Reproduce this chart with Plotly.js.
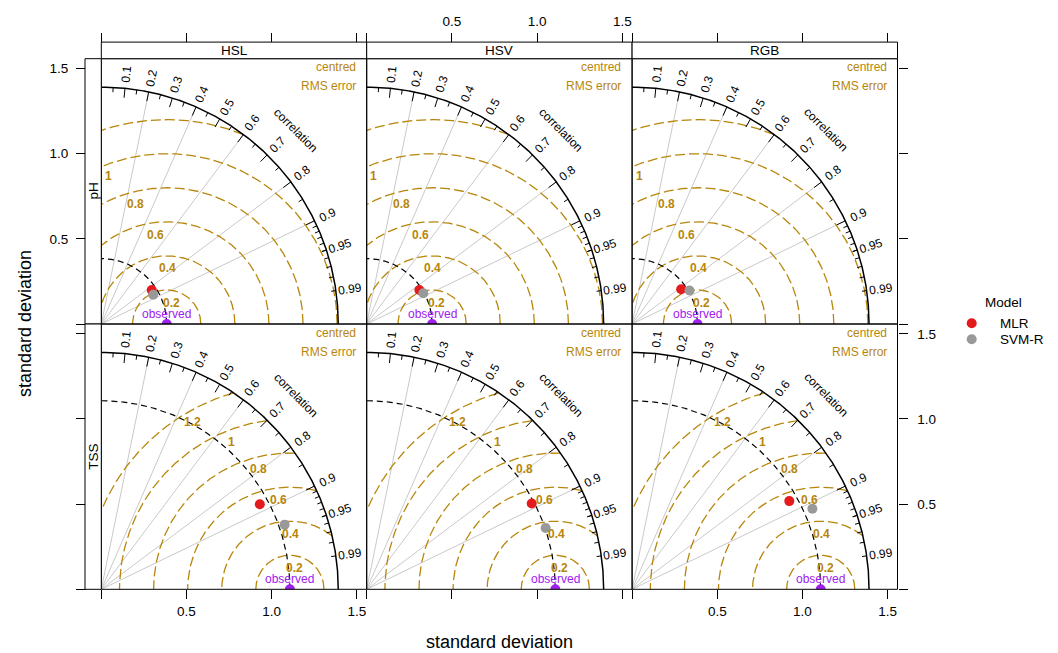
<!DOCTYPE html>
<html><head><meta charset="utf-8">
<script src="https://cdn.plot.ly/plotly-3.0.1.min.js"></script>
<style>html,body{margin:0;padding:0;background:#fff}#chart{width:1058px;height:653px}</style>
</head><body><div id="chart"></div>
<script>
// ---------------- data ----------------
const panelCols = ["HSL", "HSV", "RGB"];
const panelRows = ["pH", "TSS"];
const models = ["MLR", "SVM-R"];
const modelColors = ["#E41A1C", "#999999"];
const legendTitle = "Model";
const obsSD = [0.384, 1.107];               // observed sd: pH, TSS
// standard deviation and correlation per panel, order HSL, HSV, RGB
const MLR_sd_pH   = [0.357, 0.368, 0.353];
const MLR_r_pH    = [0.829, 0.840, 0.816];
const SVMR_sd_pH  = [0.350, 0.378, 0.390];
const SVMR_r_pH   = [0.871, 0.879, 0.864];
const MLR_sd_TSS  = [1.056, 1.092, 1.058];
const MLR_r_TSS   = [0.881, 0.887, 0.872];
const SVMR_sd_TSS = [1.141, 1.110, 1.159];
const SVMR_r_TSS  = [0.943, 0.946, 0.913];
const corTickLabels = [0.1, 0.2, 0.3, 0.4, 0.5, 0.6, 0.7, 0.8, 0.9, 0.95, 0.99];
const corLines = [0.2, 0.4, 0.6, 0.8, 0.9];
const axisTickVals = [0, 0.5, 1, 1.5];
const axisTickText = ["", "0.5", "1.0", "1.5"];

const sdData = [[MLR_sd_pH, SVMR_sd_pH], [MLR_sd_TSS, SVMR_sd_TSS]];
const rData  = [[MLR_r_pH, SVMR_r_pH], [MLR_r_TSS, SVMR_r_TSS]];

// ---------------- geometry ----------------
const W = 1058, H = 653;
const PX0 = 101.3, PW = 265.4, PY0 = 58.7, PH = 265.3;
const STRIP_TOP = 42.1, LSTRIP_X = 85;
const FONT = "Liberation Sans, Arial, Helvetica, sans-serif";
const GOLD = "#B8860B", PURPLE = "#A020F0";

let allSd = obsSD.slice();
sdData.forEach(r => r.forEach(m => m.forEach(v => allSd.push(v))));
const maxsd = 1.2 * Math.max(...allSd);
const axMax = 1.12 * maxsd;
const gammas = [];
for (let g = 0; g <= maxsd + 1e-9; g = +(g + 0.2).toFixed(10)) gammas.push(+g.toFixed(1));

const traces = [];
const annotations = [];
const shapes = [];
const layout = {
  width: W, height: H, margin: {l: 0, r: 0, t: 0, b: 0},
  paper_bgcolor: "#fff", plot_bgcolor: "rgba(0,0,0,0)",
  font: {family: FONT, color: "#000"},
  showlegend: false,
  annotations, shapes
};

function xdom(c) { return [(PX0 + c * PW) / W, (PX0 + (c + 1) * PW) / W]; }
function ydom(r) { const top = PY0 + r * PH; return [1 - (top + PH) / H, 1 - top / H]; }

const tickFont = {family: FONT, size: 13.5, color: "#000"};
function baseAxis(domain) {
  return {domain, range: [0, axMax], showgrid: false, zeroline: false, showline: false,
    ticks: "", showticklabels: false, fixedrange: true, tickfont: tickFont,
    tickvals: axisTickVals, ticktext: axisTickText, ticklen: 9, tickcolor: "#000", tickwidth: 1};
}

function arc(cx, r, t0, t1, clip) {
  const xs = [], ys = [];
  const n = 600;
  let inside = false;
  for (let i = 0; i <= n; i++) {
    const t = t0 + (t1 - t0) * i / n;
    const x = cx + r * Math.cos(t), y = r * Math.sin(t);
    const ok = !clip || (x >= 0 && x * x + y * y <= maxsd * maxsd);
    if (ok) { xs.push(x); ys.push(y); inside = true; }
    else if (inside) { xs.push(null); ys.push(null); inside = false; }
  }
  return [xs, ys];
}

for (let r = 0; r < panelRows.length; r++) {
  for (let c = 0; c < panelCols.length; c++) {
    const k = r * 3 + c + 1;
    const xa = k === 1 ? "x" : "x" + k, ya = k === 1 ? "y" : "y" + k;
    const xax = baseAxis(xdom(c)), yax = baseAxis(ydom(r));
    if (r === 0) {
      Object.assign(xax, {side: "top", anchor: "free", position: 1 - STRIP_TOP / H, ticks: "outside", showticklabels: c === 1, ticklabelstandoff: 2});
    } else {
      Object.assign(xax, {anchor: ya, side: "bottom", ticks: "outside", showticklabels: c !== 1});
    }
    if (c === 0) {
      Object.assign(yax, {anchor: "free", position: LSTRIP_X / W, side: "left", ticks: "outside", showticklabels: r === 0, ticklabelstandoff: 5});
    } else if (c === 2) {
      Object.assign(yax, {anchor: xa, side: "right", ticks: "outside", showticklabels: r === 1, ticklabelstandoff: 7});
    } else {
      yax.anchor = xa;
    }
    layout["xaxis" + (k === 1 ? "" : k)] = xax;
    layout["yaxis" + (k === 1 ? "" : k)] = yax;

    const sdr = obsSD[r];
    // correlation grid lines
    const clx = [], cly = [];
    corLines.forEach(v => { clx.push(0, maxsd * v, null); cly.push(0, maxsd * Math.sqrt(1 - v * v), null); });
    traces.push({x: clx, y: cly, xaxis: xa, yaxis: ya, mode: "lines", line: {color: "#c9c9c9", width: 1}, hoverinfo: "skip"});

    // RMS arcs
    const gx = [], gy = [];
    gammas.forEach(g => {
      if (g <= 0) return;
      const [xs, ys] = arc(sdr, g, 0, Math.PI, true);
      gx.push(...xs, null); gy.push(...ys, null);
    });
    traces.push({x: gx, y: gy, xaxis: xa, yaxis: ya, mode: "lines", line: {color: GOLD, width: 1.3, dash: "10px,4px"}, hoverinfo: "skip"});

    // observed sd arc
    const [ox, oy] = arc(0, sdr, 0, Math.PI / 2, false);
    traces.push({x: ox, y: oy, xaxis: xa, yaxis: ya, mode: "lines", line: {color: "#000", width: 1.2, dash: "6px,4px"}, hoverinfo: "skip"});

    // outer quadrant
    const [qx, qy] = arc(0, maxsd, 0, Math.PI / 2, false);
    traces.push({x: qx, y: qy, xaxis: xa, yaxis: ya, mode: "lines", line: {color: "#000", width: 1.5}, hoverinfo: "skip"});

    // correlation ticks
    const tx = [], ty = [];
    const addTicks = (vals, f) => vals.forEach(v => {
      const a = Math.acos(v);
      tx.push(Math.cos(a) * maxsd, Math.cos(a) * f * maxsd, null);
      ty.push(Math.sin(a) * maxsd, Math.sin(a) * f * maxsd, null);
    });
    const big = [], med = [], sml = [];
    for (let i = 1; i <= 9; i++) big.push(i / 10);
    for (let i = 0; i < 10; i++) med.push(0.05 + i / 10);
    for (let i = 91; i <= 99; i++) sml.push(i / 100);
    addTicks(big, 0.96); addTicks(med, 0.98); addTicks(sml, 0.98);
    traces.push({x: tx, y: ty, xaxis: xa, yaxis: ya, mode: "lines", line: {color: "#000", width: 1}, hoverinfo: "skip"});

    // observed point
    traces.push({x: [sdr], y: [0], xaxis: xa, yaxis: ya, mode: "markers", marker: {color: PURPLE, size: 10}, hoverinfo: "skip", cliponaxis: true});

    // model points
    models.forEach((m, mi) => {
      const sd = sdData[r][mi][c], cr = rData[r][mi][c];
      traces.push({x: [sd * cr], y: [sd * Math.sqrt(1 - cr * cr)], xaxis: xa, yaxis: ya, mode: "markers", name: m,
        marker: {color: modelColors[mi], size: 10}, cliponaxis: true});
    });

    // correlation labels
    corTickLabels.forEach(v => {
      const a = Math.acos(v);
      annotations.push({xref: xa, yref: ya, x: Math.cos(a) * 1.06 * maxsd, y: Math.sin(a) * 1.06 * maxsd,
        text: String(v), textangle: -a * 180 / Math.PI, showarrow: false, xanchor: "center", yanchor: "middle",
        font: {family: FONT, size: 12, color: "#000"}});
    });
    annotations.push({xref: xa, yref: ya, x: 0.82 * maxsd, y: 0.82 * maxsd, text: "correlation", textangle: 45,
      showarrow: false, font: {family: FONT, size: 12, color: "#000"}});

    // RMS labels
    gammas.forEach((g, gi) => {
      if (g <= 0) return;
      const idx = Math.floor(45 + gi * 25 / (gammas.length - 1));
      const t = (idx - 1) * 0.03;
      const lx = sdr + g * Math.cos(t), ly = g * Math.sin(t);
      if (lx < 0 || lx > axMax || ly > axMax) return;
      annotations.push({xref: xa, yref: ya, x: lx, y: ly, text: "<b>" + String(g) + "</b>", showarrow: false,
        xanchor: "center", yanchor: "middle", yshift: -12.5, font: {family: FONT, size: 12, color: GOLD}});
    });
    annotations.push({xref: xa, yref: ya, x: 1.1 * maxsd, y: 1.05 * maxsd, text: "centred", showarrow: false,
      xanchor: "right", yanchor: "middle", xshift: -4, yshift: 8, font: {family: FONT, size: 12, color: GOLD}});
    annotations.push({xref: xa, yref: ya, x: 1.1 * maxsd, y: 1.05 * maxsd, text: "RMS error", showarrow: false,
      xanchor: "right", yanchor: "middle", xshift: -4, yshift: -11, font: {family: FONT, size: 12, color: GOLD}});
    annotations.push({xref: xa, yref: ya, x: sdr, y: 0, text: "observed", showarrow: false,
      xanchor: "center", yanchor: "middle", yshift: 10, font: {family: FONT, size: 12, color: PURPLE}});

    // panel frame
    const [x0, x1] = xdom(c), [y0, y1] = ydom(r);
    shapes.push({type: "rect", xref: "paper", yref: "paper", x0, x1, y0, y1, line: {color: "#000", width: 1}, fillcolor: "rgba(0,0,0,0)", layer: "above"});
  }
}

// top strips
panelCols.forEach((name, c) => {
  const [x0, x1] = xdom(c);
  shapes.push({type: "rect", xref: "paper", yref: "paper", x0, x1, y0: 1 - PY0 / H, y1: 1 - STRIP_TOP / H,
    line: {color: "#000", width: 1}, fillcolor: "#fff", layer: "above"});
  annotations.push({xref: "paper", yref: "paper", x: (x0 + x1) / 2, y: 1 - (PY0 + STRIP_TOP) / 2 / H, text: name,
    showarrow: false, xanchor: "center", yanchor: "middle", font: {family: FONT, size: 13.5, color: "#000"}});
});
// left strips
panelRows.forEach((name, r) => {
  const [y0, y1] = ydom(r);
  shapes.push({type: "rect", xref: "paper", yref: "paper", x0: LSTRIP_X / W, x1: PX0 / W, y0, y1,
    line: {color: "#000", width: 1}, fillcolor: "#fff", layer: "above"});
  annotations.push({xref: "paper", yref: "paper", x: (LSTRIP_X + PX0) / 2 / W, y: (y0 + y1) / 2, text: name, textangle: -90,
    showarrow: false, xanchor: "center", yanchor: "middle", font: {family: FONT, size: 13.5, color: "#000"}});
});

// axis titles
annotations.push({xref: "paper", yref: "paper", x: (PX0 + 1.5 * PW) / W, y: 1 - 642 / H, text: "standard deviation",
  showarrow: false, xanchor: "center", yanchor: "middle", font: {family: FONT, size: 18, color: "#000"}});
annotations.push({xref: "paper", yref: "paper", x: 25 / W, y: 1 - (PY0 + PH) / H, text: "standard deviation", textangle: -90,
  showarrow: false, xanchor: "center", yanchor: "middle", font: {family: FONT, size: 18, color: "#000"}});

// legend key (small dedicated subplot: 10 px per x unit, 16 px per y unit; x=0 at 971.7 px, y=0 at 323.3 px)
layout.xaxis7 = {domain: [951.7 / W, 1051.7 / W], range: [-2, 8], anchor: "y7", visible: false, fixedrange: true};
layout.yaxis7 = {domain: [1 - 350 / H, 1 - 290 / H], range: [1 + 10.7 / 16, -33.3 / 16], anchor: "x7", visible: false, fixedrange: true};
models.forEach((m, mi) => {
  traces.push({x: [0], y: [mi], xaxis: "x7", yaxis: "y7", mode: "markers", name: m,
    marker: {color: modelColors[mi], size: 10}, cliponaxis: false, hoverinfo: "skip"});
  annotations.push({xref: "x7", yref: "y7", x: 2.6, y: mi, text: m, showarrow: false, xanchor: "left", yanchor: "middle",
    font: {family: FONT, size: 13.5, color: "#000"}});
});
annotations.push({xref: "x7", yref: "y7", x: 3.2, y: -1.3, text: legendTitle, showarrow: false, xanchor: "center", yanchor: "middle",
  font: {family: FONT, size: 13.5, color: "#000"}});

Plotly.newPlot("chart", traces, layout, {displayModeBar: false, staticPlot: true});
</script></body></html>
